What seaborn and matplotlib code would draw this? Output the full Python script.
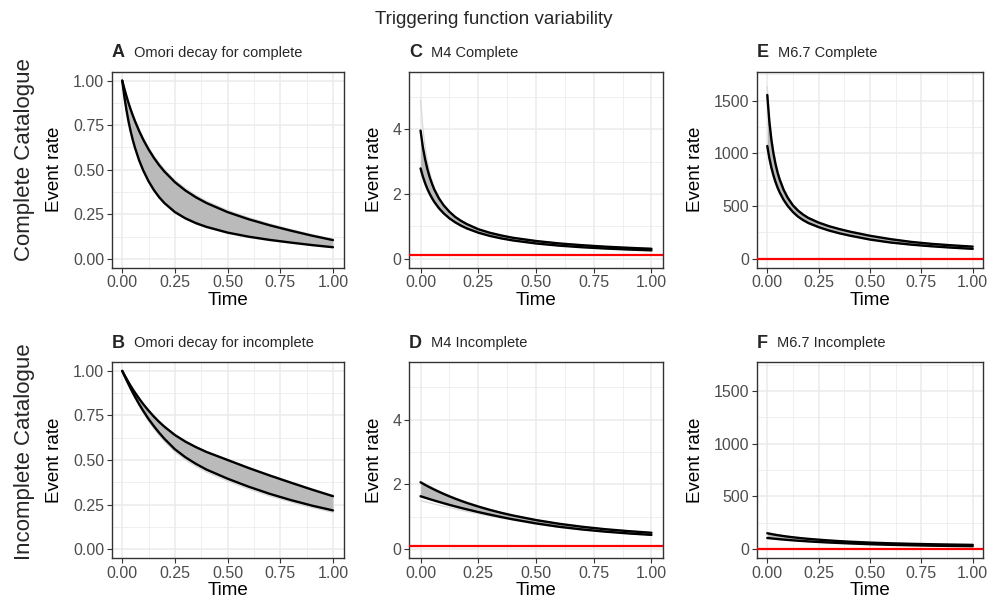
import numpy as np
import pandas as pd
import matplotlib
matplotlib.use("Agg")
import matplotlib.pyplot as plt
import seaborn as sns
from matplotlib.ticker import FixedLocator, FormatStrFormatter

# ---------------- data ----------------
T = [0, 0.01, 0.02, 0.03, 0.04, 0.05, 0.06, 0.08, 0.1, 0.125, 0.15, 0.175, 0.2,
     0.25, 0.3, 0.35, 0.4, 0.5, 0.6, 0.7, 0.8, 0.9, 1.0]

A_upper = [1.0, 0.955, 0.913, 0.874, 0.838, 0.805, 0.774, 0.718, 0.668, 0.614, 0.567, 0.526, 0.49,
           0.43, 0.383, 0.345, 0.313, 0.262, 0.222, 0.188, 0.158, 0.13, 0.105]
A_lower = [1.0, 0.91, 0.835, 0.77, 0.715, 0.667, 0.625, 0.553, 0.495, 0.435, 0.386, 0.346, 0.313,
           0.262, 0.227, 0.2, 0.179, 0.147, 0.124, 0.106, 0.091, 0.077, 0.065]
A_samp_hi = [1.0, 0.957, 0.917, 0.879, 0.844, 0.812, 0.782, 0.727, 0.678, 0.625, 0.579, 0.538, 0.502,
             0.442, 0.395, 0.356, 0.324, 0.272, 0.231, 0.196, 0.165, 0.136, 0.11]
A_samp_lo = [1.0, 0.906, 0.83, 0.765, 0.71, 0.662, 0.62, 0.548, 0.49, 0.43, 0.381, 0.341, 0.308,
             0.257, 0.222, 0.195, 0.174, 0.143, 0.12, 0.102, 0.088, 0.074, 0.062]

B_upper = [1.0, 0.978, 0.957, 0.936, 0.916, 0.897, 0.879, 0.845, 0.813, 0.777, 0.744, 0.714, 0.687,
           0.64, 0.603, 0.572, 0.545, 0.5, 0.455, 0.413, 0.373, 0.334, 0.297]
B_lower = [1.0, 0.974, 0.949, 0.925, 0.901, 0.878, 0.856, 0.814, 0.775, 0.73, 0.69, 0.653, 0.619,
           0.56, 0.515, 0.478, 0.446, 0.395, 0.35, 0.31, 0.275, 0.244, 0.217]
B_samp_hi = [1.0, 0.979, 0.959, 0.938, 0.919, 0.9, 0.882, 0.848, 0.816, 0.78, 0.747, 0.717, 0.69,
             0.643, 0.606, 0.575, 0.548, 0.503, 0.458, 0.416, 0.376, 0.337, 0.3]
B_samp_lo = [1.0, 0.972, 0.945, 0.919, 0.894, 0.87, 0.847, 0.803, 0.763, 0.717, 0.676, 0.638, 0.604,
             0.545, 0.5, 0.464, 0.432, 0.382, 0.337, 0.298, 0.264, 0.233, 0.206]

C_upper = [3.96, 3.45, 3.07, 2.76, 2.51, 2.31, 2.13, 1.86, 1.65, 1.45, 1.29, 1.17, 1.07,
           0.91, 0.80, 0.715, 0.645, 0.545, 0.47, 0.415, 0.37, 0.335, 0.305]
C_lower = [2.79, 2.54, 2.33, 2.15, 2.0, 1.866, 1.75, 1.557, 1.402, 1.247, 1.123, 1.021, 0.936,
           0.803, 0.703, 0.625, 0.563, 0.469, 0.402, 0.352, 0.313, 0.282, 0.256]
C_samp_hi = [4.9, 4.05, 3.45, 3.0, 2.66, 2.4, 2.19, 1.88, 1.66, 1.46, 1.30, 1.18, 1.08,
             0.92, 0.81, 0.725, 0.655, 0.555, 0.48, 0.425, 0.38, 0.345, 0.315]
C_samp_lo = [2.7, 2.47, 2.27, 2.1, 1.955, 1.83, 1.72, 1.535, 1.385, 1.235, 1.115, 1.015, 0.93,
             0.8, 0.7, 0.622, 0.56, 0.467, 0.4, 0.35, 0.311, 0.28, 0.254]

D_upper = [2.06, 2.02, 1.98, 1.942, 1.905, 1.869, 1.834, 1.766, 1.702, 1.626, 1.555, 1.488, 1.425,
           1.311, 1.208, 1.116, 1.034, 0.893, 0.778, 0.685, 0.61, 0.55, 0.5]
D_lower = [1.63, 1.607, 1.584, 1.562, 1.539, 1.518, 1.496, 1.454, 1.413, 1.363, 1.315, 1.269, 1.225,
           1.14, 1.061, 0.985, 0.915, 0.79, 0.685, 0.602, 0.535, 0.48, 0.435]
D_samp_hi = [2.1, 2.058, 2.018, 1.978, 1.94, 1.902, 1.866, 1.797, 1.731, 1.653, 1.58, 1.511, 1.446,
             1.328, 1.222, 1.128, 1.044, 0.9, 0.785, 0.69, 0.615, 0.555, 0.505]
D_samp_lo = [1.5, 1.481, 1.462, 1.443, 1.424, 1.406, 1.388, 1.352, 1.318, 1.277, 1.236, 1.197, 1.16,
             1.09, 1.02, 0.955, 0.895, 0.765, 0.668, 0.59, 0.526, 0.472, 0.428]

E_upper = [1554, 1304, 1129, 1000, 900, 819, 754, 652, 577, 506, 456, 418, 387,
           343, 309, 282, 258, 218, 186, 160, 141, 127, 115]
E_lower = [1070, 956, 865, 791, 729, 676, 631, 557, 500, 443, 399, 366, 339,
           300, 268, 242, 220, 182, 154, 134, 118, 105, 94]
E_samp_hi = [1633, 1360, 1170, 1032, 928, 843, 774, 668, 590, 517, 464, 425, 393,
             348, 313, 285, 261, 220, 188, 162, 143, 129, 117]
E_samp_lo = [1040, 935, 848, 776, 717, 666, 623, 551, 495, 439, 396, 362, 336,
             297, 265, 239, 217, 180, 152, 132, 116, 103, 92]

F_upper = [150, 146, 142.2, 138.5, 135.1, 131.8, 128.7, 122.9, 117.5, 111.5, 106.1, 101.1, 96.6,
           88.7, 81.5, 75.2, 69.8, 61, 54.5, 49.5, 45.5, 42.3, 39.5]
F_lower = [105, 103, 101, 99, 97.1, 95.2, 93.4, 89.9, 86.6, 82.7, 79.1, 75.8, 72.7,
           67, 62, 57.6, 53.5, 45.8, 40, 35.6, 32, 29.2, 27]
F_samp_hi = [155, 151, 147, 143.3, 139.8, 136.4, 133.2, 127.2, 121.6, 115.3, 109.7, 104.5, 99.8,
             91.5, 84, 77.5, 72, 63, 56, 50.8, 46.8, 43.6, 40.6]
F_samp_lo = [100, 98.2, 96.4, 94.6, 92.8, 91, 89.3, 86, 82.8, 79, 75.6, 72.4, 69.4,
             64, 59.2, 55, 51.2, 44, 38.7, 34.4, 31, 28.3, 26]

background_rate = {"C": 0.11, "D": 0.08, "E": 0.11, "F": 0.08}

panel_titles = {
    "A": "Omori decay for complete",
    "B": "Omori decay for incomplete",
    "C": "M4 Complete",
    "D": "M4 Incomplete",
    "E": "M6.7 Complete",
    "F": "M6.7 Incomplete",
}
x_ticks = [0, 0.25, 0.5, 0.75, 1.0]
omori_ticks = [0, 0.25, 0.5, 0.75, 1.0]
m4_ticks = [0, 2, 4]
m67_ticks = [0, 500, 1000, 1500]

main_title = "Triggering function variability"
row_labels = ["Complete Catalogue", "Incomplete Catalogue"]

# ---------------- style ----------------
sns.set_theme(style="whitegrid")
plt.rcParams["font.family"] = ["Liberation Sans", "DejaVu Sans"]

W, H = 991, 608
fig = plt.figure(figsize=(W / 100, H / 100), dpi=100)

cols = [(111.7, 343.5), (409.0, 663.0), (757.0, 983.0)]
rows = [(71.7, 267.7), (362.0, 558.0)]

layout = {
    "A": (0, 0, A_upper, A_lower, A_samp_hi, A_samp_lo, (-0.05, 1.05), omori_ticks, "%.2f", [0.125, 0.375, 0.625, 0.875]),
    "B": (1, 0, B_upper, B_lower, B_samp_hi, B_samp_lo, (-0.05, 1.05), omori_ticks, "%.2f", [0.125, 0.375, 0.625, 0.875]),
    "C": (0, 1, C_upper, C_lower, C_samp_hi, C_samp_lo, (-0.28, 5.78), m4_ticks, "%d", [1, 3, 5]),
    "D": (1, 1, D_upper, D_lower, D_samp_hi, D_samp_lo, (-0.28, 5.78), m4_ticks, "%d", [1, 3, 5]),
    "E": (0, 2, E_upper, E_lower, E_samp_hi, E_samp_lo, (-85, 1775), m67_ticks, "%d", [250, 750, 1250, 1750]),
    "F": (1, 2, F_upper, F_lower, F_samp_hi, F_samp_lo, (-85, 1775), m67_ticks, "%d", [250, 750, 1250, 1750]),
}

grid_col = "#ebebeb"
border_col = "#333333"
tick_col = "#4d4d4d"

for letter, (r, c, up, lo, shi, slo, ylim, yt, fmt, yminor) in layout.items():
    x0, x1 = cols[c]
    y0, y1 = rows[r]
    ax = fig.add_axes([x0 / W, 1 - y1 / H, (x1 - x0) / W, (y1 - y0) / H])
    ax.set_facecolor("white")

    df = pd.DataFrame({"Time": T, "upper": up, "lower": lo, "shi": shi, "slo": slo})
    # posterior samples (light grey)
    sns.lineplot(data=df, x="Time", y="shi", color="#d9d9d9", linewidth=0.9, ax=ax, zorder=2)
    sns.lineplot(data=df, x="Time", y="slo", color="#d9d9d9", linewidth=0.9, ax=ax, zorder=2)
    # quantile ribbon
    ax.fill_between(df["Time"], df["lower"], df["upper"], color="#bababa", linewidth=0, zorder=3)
    sns.lineplot(data=df, x="Time", y="upper", color="black", linewidth=1.7, ax=ax, zorder=4)
    sns.lineplot(data=df, x="Time", y="lower", color="black", linewidth=1.7, ax=ax, zorder=4)
    if letter in background_rate:
        ax.axhline(background_rate[letter], color="red", linewidth=1.6, zorder=5)

    ax.set_xlim(-0.05, 1.05)
    ax.set_ylim(*ylim)
    ax.xaxis.set_major_locator(FixedLocator(x_ticks))
    ax.xaxis.set_minor_locator(FixedLocator([0.125, 0.375, 0.625, 0.875]))
    ax.xaxis.set_major_formatter(FormatStrFormatter("%.2f"))
    ax.yaxis.set_major_locator(FixedLocator(yt))
    ax.yaxis.set_minor_locator(FixedLocator(yminor))
    ax.yaxis.set_major_formatter(FormatStrFormatter(fmt))

    ax.grid(which="major", color=grid_col, linewidth=1.1, zorder=0)
    ax.grid(which="minor", color=grid_col, linewidth=0.55, zorder=0)
    ax.set_axisbelow(True)
    for sp in ax.spines.values():
        sp.set_color(border_col)
        sp.set_linewidth(1.0)
        sp.set_visible(True)
    ax.tick_params(which="major", direction="out", length=3.5, width=0.8, color=border_col,
                   labelsize=11.5, labelcolor=tick_col, pad=2, left=True, bottom=True)
    ax.tick_params(which="minor", length=0, left=False, bottom=False)

    ax.set_xlabel("Time", fontsize=13.5, color="black", labelpad=1)
    ax.set_ylabel("Event rate", fontsize=13.5, color="black", labelpad=7)

    # panel title: bold tag letter followed by the subtitle
    ty = 1 + 14.5 / (y1 - y0)
    t1 = ax.text(0.0, ty, letter, transform=ax.transAxes, fontsize=13, fontweight="bold",
                 ha="left", va="baseline")
    fig.canvas.draw()
    bb = t1.get_window_extent()
    xr = ax.transAxes.inverted().transform((bb.x1 + 9, 0))[0]
    ax.text(xr, ty, panel_titles[letter], transform=ax.transAxes, fontsize=10.5,
            ha="left", va="baseline")

fig.text(494 / W, 1 - 20 / H, main_title, ha="center", va="center", fontsize=13.5)
fig.text(25 / W, 1 - 160 / H, row_labels[0], rotation=90, ha="center", va="center", fontsize=16)
fig.text(25 / W, 1 - 452 / H, row_labels[1], rotation=90, ha="center", va="center", fontsize=16)

fig.savefig("out.png", dpi=100, facecolor="white")
